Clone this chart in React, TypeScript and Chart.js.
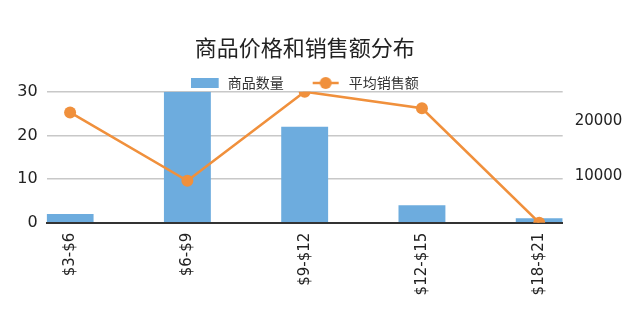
import React, { useEffect, useRef } from "react";
import { Chart, registerables } from "chart.js";

Chart.register(...registerables);

const TITLE = "商品价格和销售额分布";
const categories = ["$3-$6", "$6-$9", "$9-$12", "$12-$15", "$18-$21"];
const countLabel = "商品数量";
const salesLabel = "平均销售额";
const productCounts = [2, 30, 22, 4, 1];
const avgSales = [21500, 9150, 25250, 22250, 1550];
const leftTicks = [0, 10, 20, 30];
const rightTicks = [10000, 20000];

const BAR_COLOR = "#6DACDE";
const LINE_COLOR = "#F0903C";
const CJK = '"Noto Sans CJK SC", "Noto Sans", sans-serif';
const NUM = '"DejaVu Sans", "Noto Sans CJK SC", sans-serif';
const LEGEND_SHIFT = 12.4;

function makeBarIcon(): HTMLCanvasElement {
  const c = document.createElement("canvas");
  c.width = 30;
  c.height = 14;
  const g = c.getContext("2d")!;
  g.fillStyle = BAR_COLOR;
  g.fillRect(0, 2, 28, 10);
  return c;
}

function makeLineIcon(): HTMLCanvasElement {
  const c = document.createElement("canvas");
  c.width = 30;
  c.height = 14;
  const g = c.getContext("2d")!;
  g.strokeStyle = LINE_COLOR;
  g.lineWidth = 2.5;
  g.beginPath();
  g.moveTo(1, 7);
  g.lineTo(27, 7);
  g.stroke();
  g.fillStyle = LINE_COLOR;
  g.beginPath();
  g.arc(14, 7, 6, 0, Math.PI * 2);
  g.fill();
  return c;
}

const legendShift = {
  id: "legendShift",
  afterLayout(chart: any) {
    const l = chart.legend;
    if (!l) return;
    l.top -= LEGEND_SHIFT;
    l.height = 60;
    l.bottom = l.top + 60;
  },
};

export default function App() {
  const ref = useRef<HTMLCanvasElement | null>(null);

  useEffect(() => {
    if (!ref.current) return;
    const barIcon = makeBarIcon();
    const lineIcon = makeLineIcon();
    const minSales = Math.min(...avgSales);
    const maxSales = Math.max(...avgSales);

    const chart = new Chart(ref.current, {
      type: "bar",
      data: {
        datasets: [
          {
            type: "bar",
            label: countLabel,
            data: productCounts.map((v, i) => ({ x: i, y: v })),
            backgroundColor: BAR_COLOR,
            borderWidth: 0,
            categoryPercentage: 1,
            barPercentage: 0.4,
            yAxisID: "y",
            order: 1,
          } as any,
          {
            type: "line",
            label: salesLabel,
            data: avgSales.map((v, i) => ({ x: i, y: v })),
            borderColor: LINE_COLOR,
            backgroundColor: LINE_COLOR,
            borderWidth: 2.5,
            pointRadius: 6,
            pointBorderWidth: 0,
            pointBackgroundColor: LINE_COLOR,
            tension: 0,
            yAxisID: "y1",
            order: 0,
          } as any,
        ],
      },
      options: {
        animation: false,
        responsive: false,
        events: [],
        layout: { padding: { left: 8.3, right: 5.6, top: 0, bottom: 3.6 } },
        plugins: {
          tooltip: { enabled: false },
          title: {
            display: true,
            text: TITLE,
            fullSize: false,
            color: "#222",
            font: { family: CJK, size: 22, weight: "normal" },
            padding: { top: 34, bottom: 0 },
          },
          legend: {
            display: true,
            fullSize: false,
            maxHeight: 31.3,
            labels: {
              usePointStyle: true,
              pointStyleWidth: 30,
              padding: 28,
              color: "#333",
              font: { family: CJK, size: 14 },
              generateLabels: () => [
                {
                  text: countLabel,
                  pointStyle: barIcon,
                  fillStyle: BAR_COLOR,
                  strokeStyle: BAR_COLOR,
                  lineWidth: 0,
                  hidden: false,
                  datasetIndex: 0,
                  fontColor: "#333",
                } as any,
                {
                  text: salesLabel,
                  pointStyle: lineIcon,
                  fillStyle: LINE_COLOR,
                  strokeStyle: LINE_COLOR,
                  lineWidth: 0,
                  hidden: false,
                  datasetIndex: 1,
                  fontColor: "#333",
                } as any,
              ],
            },
          },
        },
        scales: {
          x: {
            type: "linear",
            min: -0.2,
            max: 4.2,
            offset: false,
            grid: { display: false, drawTicks: false, offset: false },
            border: { display: true, color: "#333", width: 2 },
            afterBuildTicks: (s: any) => {
              s.ticks = categories.map((_, i) => ({ value: i }));
            },
            ticks: {
              minRotation: 90,
              maxRotation: 90,
              autoSkip: false,
              padding: 10,
              color: "#222",
              font: { family: NUM, size: 15 },
              callback: (v: any) => categories[Math.round(Number(v))] ?? "",
            },
          } as any,
          y: {
            type: "linear",
            position: "left",
            min: leftTicks[0],
            max: leftTicks[leftTicks.length - 1],
            afterBuildTicks: (s: any) => {
              s.ticks = leftTicks.map((v) => ({ value: v }));
            },
            grid: {
              drawTicks: false,
              color: (ctx: any) => (ctx.tick && ctx.tick.value === 0 ? "rgba(0,0,0,0)" : "#C8C8C8"),
              lineWidth: 1.5,
            },
            border: { display: false },
            ticks: {
              padding: 9,
              color: "#222",
              font: { family: NUM, size: 16 },
              callback: (v: any) => String(v),
            },
          } as any,
          y1: {
            type: "linear",
            position: "right",
            min: minSales,
            max: maxSales,
            afterBuildTicks: (s: any) => {
              s.ticks = rightTicks.map((v) => ({ value: v }));
            },
            grid: { display: false, drawTicks: false },
            border: { display: false },
            ticks: {
              padding: 12,
              color: "#222",
              font: { family: NUM, size: 15 },
              callback: (v: any) => String(v),
            },
          } as any,
        },
      },
      plugins: [legendShift],
    });

    return () => chart.destroy();
  }, []);

  return (
    <div style={{ position: "absolute", left: 0, top: 0, width: 640, height: 309, background: "#fff" }}>
      <canvas ref={ref} width={640} height={309} />
    </div>
  );
}
